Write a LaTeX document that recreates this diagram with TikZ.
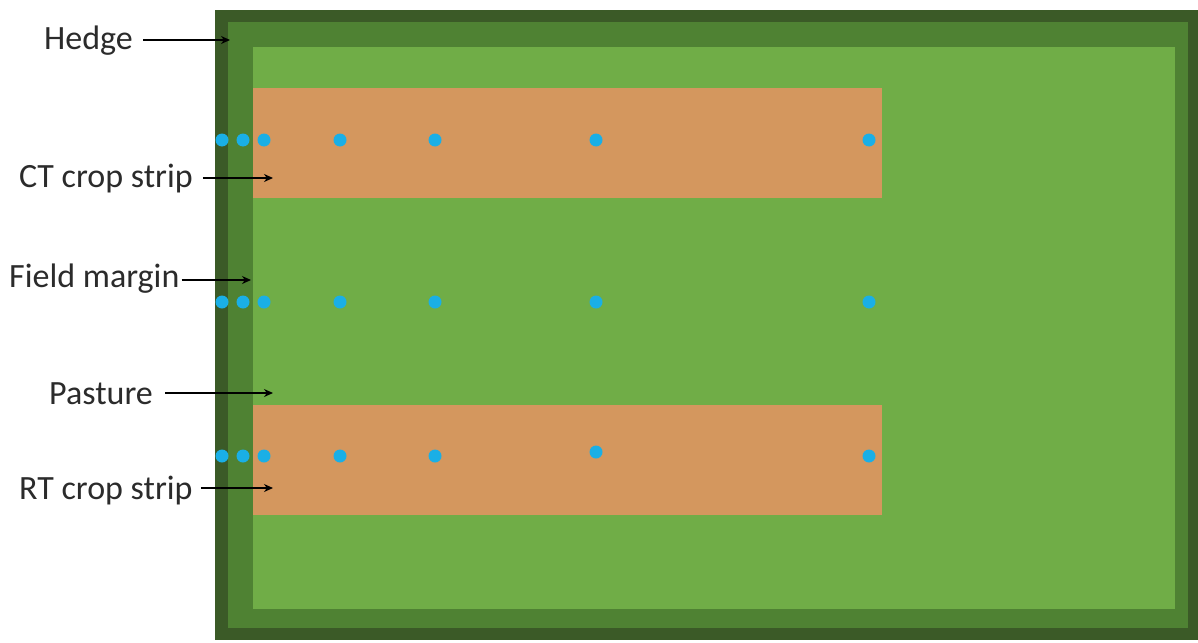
\documentclass[tikz,border=0pt]{standalone}
\usepackage{fontspec}
\setmainfont{Carlito}
\usetikzlibrary{arrows.meta}
\definecolor{hedgedark}{HTML}{3B5A27}
\definecolor{margingreen}{HTML}{4F8233}
\definecolor{pasturegreen}{HTML}{70AD47}
\definecolor{croporange}{HTML}{D4975E}
\definecolor{dotblue}{HTML}{1AAFE6}
\definecolor{labelgray}{HTML}{2B2B2B}
\begin{document}
\begin{tikzpicture}[x=1pt,y=-1pt,
  lbl/.style={font=\fontsize{34}{40}\selectfont, text=labelgray, inner sep=0pt, anchor=west},
  ptr/.style={-{Stealth[length=9pt,width=8pt]}, line width=1.4pt, black},
  dot/.style={circle, fill=dotblue, inner sep=0pt, minimum size=13pt}]
\useasboundingbox (0,0) rectangle (1198,642);
\fill[hedgedark] (215,10) rectangle (1198,640);
\fill[margingreen] (228,22) rectangle (1188,628);
\fill[pasturegreen] (253,47) rectangle (1175,609);
\fill[croporange] (253,88) rectangle (882,198);
\fill[croporange] (253,405) rectangle (882,515);
% dots
\foreach \r/\y in {a/140,b/302}{
  \foreach \i/\x in {1/222,2/243,3/264,4/340,5/435,6/596,7/869}{
    \node[dot] (d\r\i) at (\x,\y) {};
  }
}
\foreach \i/\x/\y in {1/222/456,2/243/456,3/264/456,4/340/456,5/435/456,6/596/452,7/869/456}{
  \node[dot] (dc\i) at (\x,\y) {};
}
% labels
\node[lbl] (hedge) at (44,41) {Hedge};
\node[lbl] (ct) at (19,179) {CT crop strip};
\node[lbl] (fm) at (9,279) {Field margin};
\node[lbl] (pas) at (49,394) {Pasture};
\node[lbl] (rt) at (19,491) {RT crop strip};
\coordinate (hedgeT) at (230,40);
\coordinate (ctT) at (273,178);
\coordinate (fmT) at (251,280);
\coordinate (pasT) at (273,393);
\coordinate (rtT) at (273,488);
\draw[ptr] ([xshift=10pt]hedge.east |- hedgeT) -- (hedgeT);
\draw[ptr] ([xshift=10pt]ct.east |- ctT) -- (ctT);
\draw[ptr] ([xshift=2pt]fm.east |- fmT) -- (fmT);
\draw[ptr] ([xshift=12pt]pas.east |- pasT) -- (pasT);
\draw[ptr] ([xshift=8pt]rt.east |- rtT) -- (rtT);
\end{tikzpicture}
\end{document}
